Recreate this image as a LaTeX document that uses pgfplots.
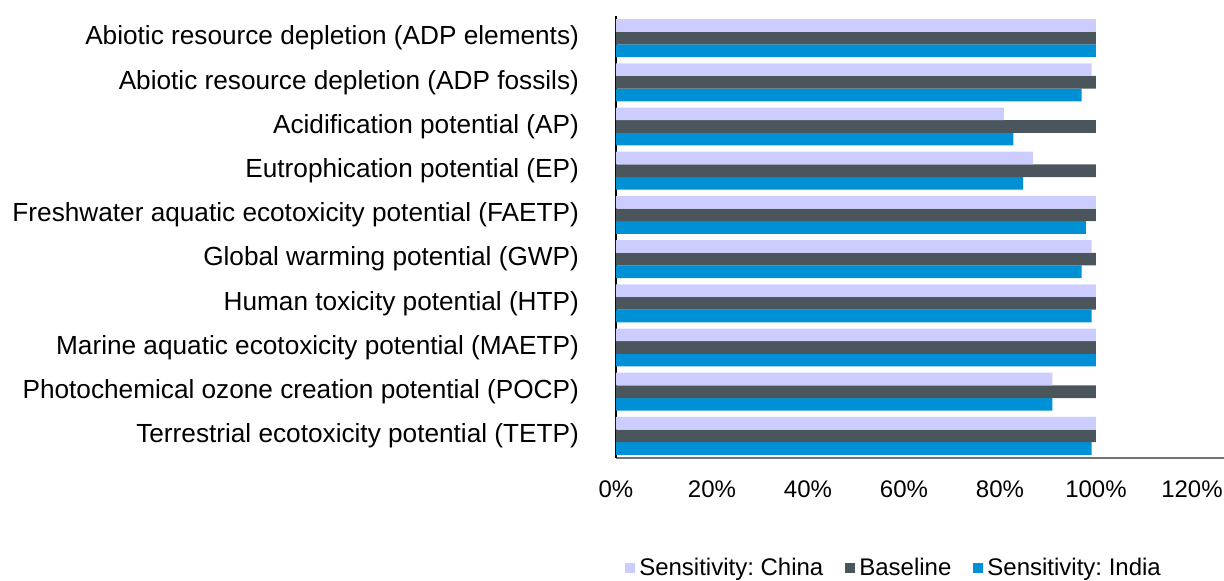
\documentclass[border=0pt]{standalone}
\usepackage{fontspec}
\setmainfont{Liberation Sans}
\usepackage{pgfplots}
\pgfplotsset{compat=1.18}
\definecolor{china}{HTML}{CCCCFF}
\definecolor{base}{HTML}{4A565C}
\definecolor{india}{HTML}{0090D6}

\begin{document}
\frenchspacing
\begin{tikzpicture}
\begin{axis}[
  scale only axis, width=304pt, height=221pt,
  xbar=0pt, bar width=6.33pt,
  legend image code/.code={\fill[#1] (0pt,-2.5pt) rectangle (5pt,2.5pt);},
  xmin=0, xmax=1.2667, ymin=-0.5, ymax=9.5, y dir=reverse,
  axis x line*=bottom, axis y line*=left,
  x axis line style={-, color=black!55, line width=0.7pt},
  y axis line style={-, black, line width=1.2pt},
  major tick length=0pt,
  xtick={0,0.2,0.4,0.6,0.8,1.0,1.2},
  xticklabels={0\%,20\%,40\%,60\%,80\%,100\%,120\%},
  ytick={0,1,2,3,4,5,6,7,8,9},
  yticklabels={
    Abiotic resource depletion (ADP elements),
    Abiotic resource depletion (ADP fossils),
    Acidification potential (AP),
    Eutrophication potential (EP),
    Freshwater aquatic ecotoxicity potential (FAETP),
    Global warming potential (GWP),
    Human toxicity potential (HTP),
    Marine aquatic ecotoxicity potential (MAETP),
    Photochemical ozone creation potential (POCP),
    Terrestrial ecotoxicity potential (TETP)},
  tick label style={font=\fontsize{12}{14}\selectfont, text=black},
  yticklabel style={font=\fontsize{13.1}{15}\selectfont, xshift=-15pt},
  xticklabel style={yshift=-8pt},
  legend columns=3, reverse legend,
  legend style={at={(0.459,-0.249)}, anchor=center, draw=none,
    font=\fontsize{12}{14}\selectfont,
    /tikz/every even column/.append style={column sep=9pt}},
]
% India sensitivity (plotted first so it sits at the bottom of each group)
\addplot[fill=india, draw=none] coordinates {
  (1.000,0) (0.970,1) (0.828,2) (0.848,3) (0.979,4)
  (0.970,5) (0.991,6) (1.000,7) (0.909,8) (0.991,9)};
% baseline
\addplot[fill=base, draw=none] coordinates {
  (1,0) (1,1) (1,2) (1,3) (1,4) (1,5) (1,6) (1,7) (1,8) (1,9)};
% China sensitivity
\addplot[fill=china, draw=none] coordinates {
  (1.000,0) (0.991,1) (0.808,2) (0.869,3) (1.000,4)
  (0.991,5) (1.000,6) (1.000,7) (0.909,8) (1.000,9)};
\legend{Sensitivity: India, Baseline, Sensitivity: China}
\end{axis}
\pgfresetboundingbox
\path (-308pt,-61.5pt) rectangle (304pt,229pt);
\end{tikzpicture}
\end{document}
